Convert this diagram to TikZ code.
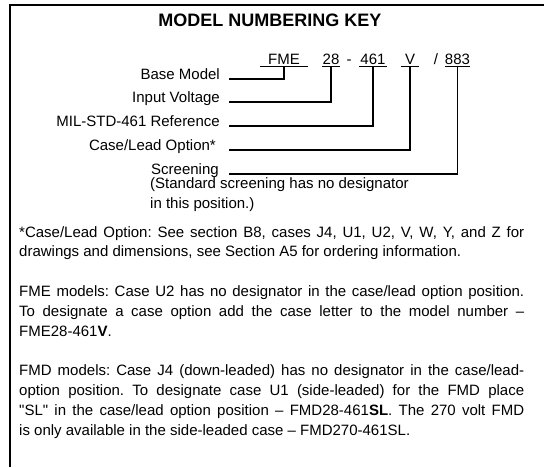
\documentclass[tikz,border=0pt]{standalone}
\usepackage{fontspec}
\setmainfont{Liberation Sans}
\begin{document}
\frenchspacing
\begin{tikzpicture}[x=1pt,y=-1pt,
  txt/.style={font=\fontsize{15}{18}\selectfont\frenchspacing, inner sep=0pt},
  lbl/.style={txt, anchor=base east},
  code/.style={txt, anchor=base, text depth=2.5pt},
  body/.style={txt, anchor=base west},
  conn/.style={line width=1.3pt},
  uline/.style={line width=1.2pt},
  frame/.style={line width=1.3pt}]
\useasboundingbox (0,0) rectangle (544,467);
\coordinate (fbl) at (10,467);
\coordinate (ftl) at (10,5);
\coordinate (ftr) at (544,5);
\draw[frame] (fbl) -- (ftl) -- (ftr);

\node[font=\fontsize{18}{22}\selectfont\bfseries, anchor=base, inner sep=0pt] (title) at (270,26.5) {MODEL NUMBERING KEY};

% model code
\node[code, minimum width=47pt] (fme) at (284,64) {FME};
\node[code, minimum width=17pt] (volt) at (331,64) {28};
\node[code] (dash) at (349,64) {-};
\node[code, minimum width=28pt] (ref) at (373,64) {461};
\node[code, minimum width=18pt] (case) at (410,64) {V};
\node[code] (slash) at (436,64) {/};
\node[code, minimum width=22pt] (scr) at (457.5,64) {883};
\foreach \n in {fme,volt,ref,case,scr}
  \draw[uline] (\n.south west) -- (\n.south east);

% labels
\node[lbl] (lbm) at (220,79) {Base Model};
\node[lbl] (liv) at (220,102) {Input Voltage};
\node[lbl] (lmil) at (220,126) {MIL-STD-461 Reference};
\node[lbl] (lcase) at (216,150) {Case/Lead Option*};
\node[txt, anchor=base west] (lscr) at (151,174) {Screening};
\node[body] (lstd) at (150,188) {(Standard screening has no designator};
\node[body] (lpos) at (150,208) {in this position.)};

\draw[conn] ([xshift=9pt]lbm.base east) -| (fme.south);
\draw[conn] ([xshift=9pt]liv.base east) -| (volt.south);
\draw[conn] ([xshift=9pt]lmil.base east) -| (ref.south);
\draw[conn] ([xshift=13pt]lcase.base east) -| (case.south);
\draw[conn] ([xshift=10.5pt]lscr.base east) -| (scr.south);

% notes
\node[body] (n1) at (19,237) {\makebox[505pt][s]{*Case/Lead Option: See section B8, cases J4, U1, U2, V, W, Y, and Z for}};
\node[body] (n2) at (19,256.8) {drawings and dimensions, see Section A5 for ordering information.};
\node[body] (n3) at (19,296.4) {\makebox[505pt][s]{FME models: Case U2 has no designator in the case/lead option position.}};
\node[body] (n4) at (19,316.2) {\makebox[505pt][s]{To designate a case option add the case letter to the model number --}};
\node[body] (n5) at (19,336) {FME28-461\textbf{V}.};
\node[body] (n6) at (19,375.6) {\makebox[505pt][s]{FMD models: Case J4 (down-leaded) has no designator in the case/lead-}};
\node[body] (n7) at (19,395.4) {\makebox[505pt][s]{option position. To designate case U1 (side-leaded) for the FMD place}};
\node[body] (n8) at (19,415.2) {\makebox[505pt][s]{\textquotedbl SL\textquotedbl{} in the case/lead option position -- FMD28-461\textbf{SL}. The 270 volt FMD}};
\node[body] (n9) at (19,435) {is only available in the side-leaded case -- FMD270-461SL.};
\end{tikzpicture}
\end{document}
